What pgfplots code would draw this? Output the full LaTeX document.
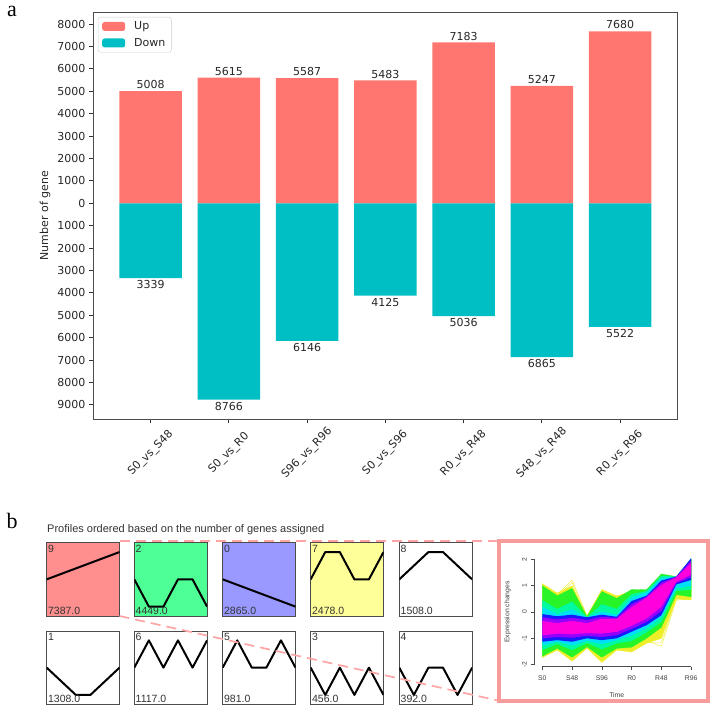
\documentclass[border=0pt]{standalone}
\usepackage{pgfplots}
\pgfplotsset{compat=1.18}
\usepackage{pgfplotstable}
\usepackage{fontspec}
\setmainfont{DejaVu Sans}
\newfontfamily\arialf{Liberation Sans}
\newfontfamily\seriff{Liberation Serif}

\definecolor{upc}{RGB}{255,118,112}
\definecolor{downc}{RGB}{0,191,196}
\definecolor{p9}{RGB}{255,143,143}
\definecolor{p2}{RGB}{77,255,148}
\definecolor{p0}{RGB}{153,153,255}
\definecolor{p7}{RGB}{255,255,153}
\definecolor{pinkbox}{RGB}{248,155,155}
\definecolor{pinkdash}{RGB}{255,165,165}
\definecolor{yel}{RGB}{238,238,40}
\definecolor{grn}{RGB}{40,245,40}
\definecolor{spg}{RGB}{0,250,160}
\definecolor{cyn}{RGB}{0,225,245}
\definecolor{blu}{RGB}{25,25,255}
\definecolor{pur}{RGB}{150,0,255}
\definecolor{mag}{RGB}{255,0,220}

\pgfplotstableread{
x up down ul dl
0 5008 -3339 5008 3339
1 5615 -8766 5615 8766
2 5587 -6146 5587 6146
3 5483 -4125 5483 4125
4 7183 -5036 7183 5036
5 5247 -6865 5247 6865
6 7680 -5522 7680 5522
}\degs

\pgfplotsset{profbox/.style={anchor=north west, scale only axis, width=72.8pt, height=73.3pt,
  xmin=0, xmax=5, ymin=-1.343, ymax=1.343, ticks=none,
  axis line style={black!70, line width=0.9pt}}}

\newcommand{\profbox}[6]{%
\begin{axis}[profbox, at={(#1pt,#2pt)}, axis background/.style={fill=#3}]
\addplot[black, line width=2pt, line join=round] coordinates {#6};
\node[anchor=north west, inner xsep=1.2pt, inner ysep=2pt, text=black!80, font=\arialf\fontsize{10.5}{12}\selectfont] at (rel axis cs:0,1) {#4};
\node[anchor=south west, inner xsep=1.2pt, inner ysep=1.5pt, text=black!80, font=\arialf\fontsize{10.5}{12}\selectfont] at (rel axis cs:0,0) {#5};
\end{axis}}

\begin{document}
\begin{tikzpicture}
\useasboundingbox (0,0) rectangle (717pt,714pt);

% ---------------- panel a ----------------
\node[font=\seriff\fontsize{22}{24}\selectfont, inner sep=0] at (12pt,702.5pt) {a};
\begin{axis}[
  at={(93pt,294.7pt)}, anchor=south west,
  scale only axis, width=584.7pt, height=407.3pt,
  xmin=-0.737, xmax=6.737, ymin=-9643, ymax=8540,
  xtick={0,...,6},
  xticklabels={S0\_vs\_S48,S0\_vs\_R0,S96\_vs\_R96,S0\_vs\_S96,R0\_vs\_R48,S48\_vs\_R48,R0\_vs\_R96},
  ytick={-9000,-8000,...,8000},
  yticklabels={9000,8000,7000,6000,5000,4000,3000,2000,1000,0,1000,2000,3000,4000,5000,6000,7000,8000},
  tick pos=left, tick align=outside, major tick length=4pt,
  tick style={black!80, line width=0.8pt},
  axis line style={black!70, line width=0.8pt},
  tick label style={font=\fontsize{11}{13}\selectfont, text=black!85},
  xticklabel style={yshift=-30pt, rotate=45, anchor=center},
  every axis y label/.style={at={(axis description cs:-0.0821,0.5)}, rotate=90, anchor=center, font=\fontsize{11}{13}\selectfont, text=black!85},
  ylabel={Number of gene},
  legend style={at={(0,1)}, anchor=north west, xshift=5pt, yshift=-5pt, draw=black!20, rounded corners=2.5pt,
    fill=white, inner xsep=4pt, inner ysep=2.5pt, font=\fontsize{11}{13}\selectfont, text=black!85, row sep=3pt,
    /tikz/every odd column/.append style={column sep=7pt}},
  legend cell align=left,
  every node near coord/.append style={font=\fontsize{11}{13}\selectfont, inner sep=2pt, text=black!85},
]
\addplot[ybar, bar shift=0pt, bar width=0.8, fill=upc, draw=none, nodes near coords, point meta=explicit symbolic,
  nodes near coords style={anchor=south},
  legend image code/.code={\fill[upc] (0pt,-4.5pt) rectangle (23pt,4.5pt);}]
  table[x=x, y=up, meta=ul] {\degs};
\addlegendentry{Up}
\addplot[ybar, bar shift=0pt, bar width=0.8, fill=downc, draw=none, nodes near coords, point meta=explicit symbolic,
  nodes near coords style={anchor=north},
  legend image code/.code={\fill[downc] (0pt,-4.5pt) rectangle (23pt,4.5pt);}]
  table[x=x, y=down, meta=dl] {\degs};
\addlegendentry{Down}
\end{axis}

% ---------------- panel b ----------------
\node[font=\seriff\fontsize{22}{24}\selectfont, inner sep=0] at (12pt,193pt) {b};
\node[anchor=west, inner sep=0, text=black!80, font=\arialf\fontsize{11}{13}\selectfont] at (47pt,184pt)
  {Profiles ordered based on the number of genes assigned};

\profbox{46.7}{171.3}{p9}{9}{7387.0}{(0,0) (5,1)}
\profbox{134.3}{171.3}{p2}{2}{4449.0}{(0,0) (1,-1) (2,-1) (3,0) (4,0) (5,-1)}
\profbox{222.7}{171.3}{p0}{0}{2865.0}{(0,0) (5,-1)}
\profbox{310.7}{171.3}{p7}{7}{2478.0}{(0,0) (1,1) (2,1) (3,0) (4,0) (5,1)}
\profbox{399.3}{171.3}{white}{8}{1508.0}{(0,0) (2,1) (3,1) (5,0)}

\profbox{46.7}{83}{white}{1}{1308.0}{(0,0) (2,-1) (3,-1) (5,0)}
\profbox{134.3}{83}{white}{6}{1117.0}{(0,0) (1,1) (2,0) (3,1) (4,0) (5,1)}
\profbox{222.7}{83}{white}{5}{981.0}{(0,0) (1,1) (2,0) (3,0) (4,1) (5,0)}
\profbox{310.7}{83}{white}{3}{456.0}{(0,0) (1,-1) (2,0) (3,-1) (4,0) (5,-1)}
\profbox{399.3}{83}{white}{4}{392.0}{(0,0) (1,-1) (2,0) (3,0) (4,-1) (5,0)}

% dashed connectors
\draw[pinkdash, line width=1.7pt, dash pattern=on 10pt off 6pt] (119.5pt,172.7pt) -- (498.7pt,172.7pt);
\draw[pinkdash, line width=1.7pt, dash pattern=on 10pt off 6pt] (119.5pt,98pt) -- (498.7pt,13.3pt);

% inset
\begin{axis}[
  at={(534pt,47.3pt)}, anchor=south west,
  scale only axis, width=163.1pt, height=112.45pt,
  xmin=-0.28, xmax=5.2, ymin=-2.08, ymax=2.2,
  axis line style={draw=none}, clip=false,
  xtick={0,...,5}, xticklabels={S0,S48,S96,R0,R48,R96},
  ytick={-2,...,2}, yticklabels={-2,-1,0,1,2},
  tick pos=left, tick align=outside, major tick length=3.5pt,
  tick style={black!70, line width=0.6pt},
  tick label style={font=\arialf\fontsize{6.8}{8}\selectfont, text=black!75},
  xticklabel style={yshift=-2.5pt},
  yticklabel style={rotate=90, anchor=south},
]
\addplot[fill=yel, draw=yel, line width=0.3pt] coordinates {(0,1.08)(0.5,0.72)(1,1.00)(1.5,-0.16)(2,0.86)(2.5,0.60)(3,0.80)(3.5,0.80)(4,1.40)(4.5,1.33)(5,2.00)(5,0.46)(4.5,0.50)(4,-1.00)(3.5,-1.19)(3,-1.52)(2.5,-1.45)(2,-1.90)(1.5,-1.38)(1,-1.87)(0.5,-1.45)(0,-1.73)} -- cycle;
\addplot[yel, line width=0.4pt] coordinates {(0,1.05)(0.5,0.66)(1,1.22)(1.5,-0.14)(2,0.80)(2.5,0.55)(3,0.75)(3.5,0.70)(4,1.10)(4.5,1.25)(5,0.55)};
\addplot[yel, line width=0.4pt] coordinates {(0,0.95)(0.5,0.60)(1,1.12)(1.5,-0.18)(2,0.84)(2.5,0.62)(3,0.72)(3.5,0.68)(4,1.20)(4.5,1.30)(5,0.65)};
\addplot[yel, line width=0.4pt] coordinates {(0,-1.68)(0.5,-1.40)(1,-1.82)(1.5,-1.35)(2,-1.92)(2.5,-1.42)(3,-1.48)(3.5,-1.10)(4,-1.30)(4.5,0.45)(5,0.50)};
\addplot[yel, line width=0.4pt] coordinates {(0,-1.60)(0.5,-1.30)(1,-1.76)(1.5,-1.30)(2,-1.86)(2.5,-1.35)(3,-1.50)(3.5,-1.15)(4,-1.15)(4.5,0.50)(5,0.48)};
\addplot[fill=grn, draw=grn, line width=0.3pt] coordinates {(0,1.00)(0.5,0.62)(1,0.90)(1.5,-0.18)(2,0.78)(2.5,0.52)(3,0.86)(3.5,0.85)(4,1.45)(4.5,1.35)(5,2.02)(5,0.58)(4.5,0.66)(4,-0.58)(3.5,-1.00)(3,-1.34)(2.5,-1.38)(2,-1.72)(1.5,-1.32)(1,-1.72)(0.5,-1.38)(0,-1.68)} -- cycle;
\addplot[fill=spg, draw=none] coordinates {(0,0.45)(0.5,0.12)(1,0.40)(1.5,-0.19)(2,0.30)(2.5,0.12)(3,0.68)(3.5,0.80)(4,1.38)(4.5,1.35)(5,2.03)(5,0.85)(4.5,0.80)(4,-0.38)(3.5,-0.78)(3,-1.10)(2.5,-1.20)(2,-1.42)(1.5,-1.18)(1,-1.45)(0.5,-1.22)(0,-1.45)} -- cycle;
\addplot[fill=cyn, draw=none] coordinates {(0,0.20)(0.5,-0.08)(1,0.10)(1.5,-0.20)(2,0.02)(2.5,-0.10)(3,0.55)(3.5,0.75)(4,1.30)(4.5,1.35)(5,2.04)(5,1.00)(4.5,0.90)(4,-0.20)(3.5,-0.62)(3,-0.90)(2.5,-1.08)(2,-1.22)(1.5,-1.10)(1,-1.28)(0.5,-1.13)(0,-1.28)} -- cycle;
\addplot[fill=blu, draw=none] coordinates {(0,-0.08)(0.5,-0.16)(1,-0.10)(1.5,-0.20)(2,-0.10)(2.5,-0.18)(3,0.42)(3.5,0.62)(4,1.20)(4.5,1.35)(5,2.05)(5,1.22)(4.5,1.05)(4,-0.12)(3.5,-0.50)(3,-0.75)(2.5,-1.00)(2,-1.07)(1.5,-1.00)(1,-1.13)(0.5,-1.07)(0,-1.13)} -- cycle;
\addplot[fill=pur, draw=none] coordinates {(0,-0.20)(0.5,-0.28)(1,-0.22)(1.5,-0.30)(2,-0.18)(2.5,-0.22)(3,0.30)(3.5,0.58)(4,1.12)(4.5,1.34)(5,1.96)(5,1.32)(4.5,1.10)(4,0.04)(3.5,-0.38)(3,-0.64)(2.5,-0.88)(2,-0.95)(1.5,-0.90)(1,-0.98)(0.5,-0.95)(0,-1.00)} -- cycle;
\addplot[fill=mag, draw=none] coordinates {(0,-0.34)(0.5,-0.42)(1,-0.34)(1.5,-0.42)(2,-0.26)(2.5,-0.26)(3,0.18)(3.5,0.55)(4,1.03)(4.5,1.32)(5,1.86)(5,1.42)(4.5,1.15)(4,0.20)(3.5,-0.25)(3,-0.52)(2.5,-0.75)(2,-0.82)(1.5,-0.80)(1,-0.84)(0.5,-0.82)(0,-0.88)} -- cycle;
\draw[black!70, line width=0.6pt] (axis cs:0,-2.08) -- (axis cs:5,-2.08);
\draw[black!70, line width=0.6pt] (axis cs:-0.28,-2) -- (axis cs:-0.28,2);
\node[font=\arialf\fontsize{6.8}{8}\selectfont, text=black!75, yshift=-28.3pt] at (axis cs:2.5,-2.08) {Time};
\node[xshift=-26.3pt, rotate=90, font=\arialf\fontsize{6.8}{8}\selectfont, text=black!75] at (axis cs:-0.28,0) {Expression changes};
\end{axis}

\draw[pinkbox, line width=4pt] (498.7pt,172.7pt) rectangle (707.5pt,13.3pt);
\end{tikzpicture}
\end{document}
